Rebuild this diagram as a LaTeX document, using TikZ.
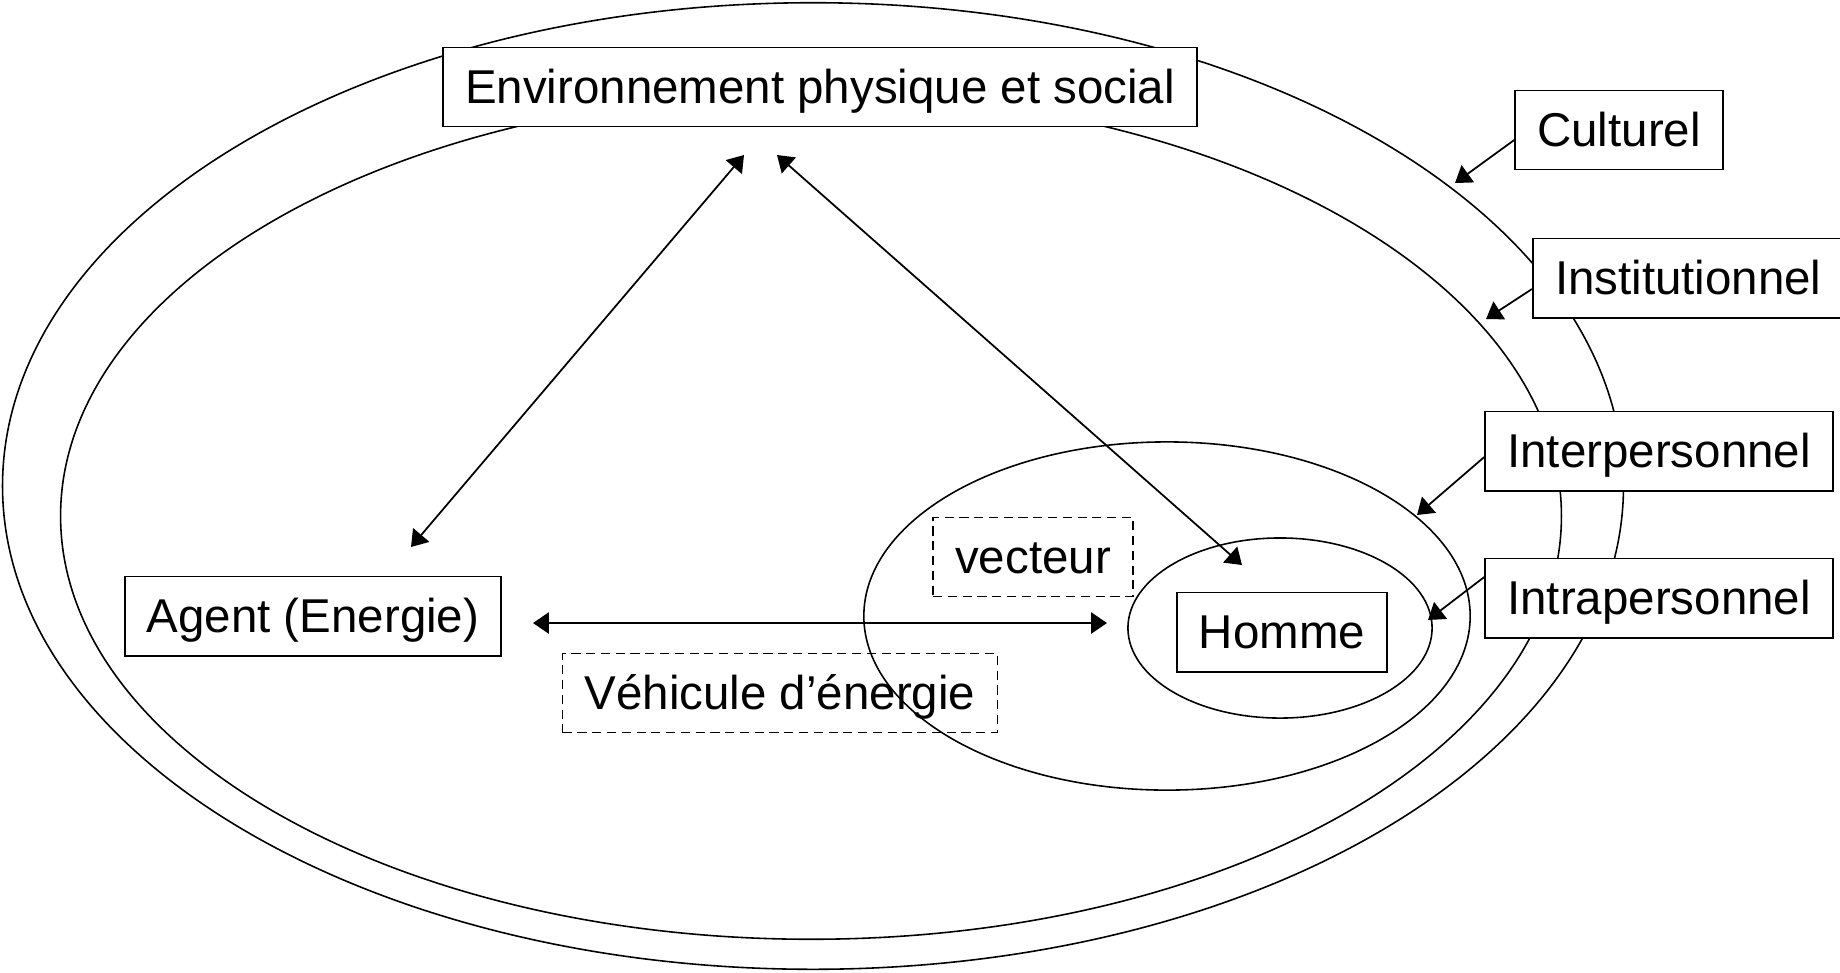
\documentclass[tikz,border=0pt]{standalone}
\usepackage{fontspec}
\setmainfont{Liberation Sans}
\usetikzlibrary{arrows.meta}

\begin{document}
\begin{tikzpicture}[
    x=0.01cm, y=-0.01cm,
    >={Triangle[length=4.5pt, width=6pt]},
    labelbox/.style={rectangle, draw=black, line width=0.55pt, fill=white, inner xsep=0.22cm, inner ysep=0.1cm, minimum height=0.79cm, text height=11pt, text depth=1.5pt, font=\fontsize{13.5}{16}\selectfont},
    dashbox/.style={rectangle, draw=black, line width=0.45pt, dash pattern=on 2.6pt off 1.6pt, inner xsep=0.22cm, inner ysep=0.1cm, minimum height=0.79cm, text height=11pt, text depth=1.5pt, font=\fontsize{13.5}{16}\selectfont},
    ring/.style={draw=black, line width=0.45pt},
    link/.style={<->, line width=0.5pt},
    pointer/.style={->, line width=0.5pt}
  ]
  \useasboundingbox (0,0) rectangle (1840,972);

  % Ellipses
  \draw[ring] (813,486) ellipse [x radius=8.10cm, y radius=4.83cm];
  \draw[ring] (811,516) ellipse [x radius=7.50cm, y radius=4.23cm];
  \draw[ring] (1167,616) ellipse [x radius=3.03cm, y radius=1.74cm];
  \draw[ring] (1280,628) ellipse [x radius=1.52cm, y radius=0.90cm];

  % Boxes
  \node[labelbox] (env) at (820,87) {Environnement physique et social};
  \node[labelbox] (cult) at (1619,130) {Culturel};
  \node[labelbox, anchor=west] (inst) at (1532,278) {Institutionnel};
  \node[labelbox] (inter) at (1659,451) {Interpersonnel};
  \node[labelbox] (intra) at (1659,598) {Intrapersonnel};
  \node[labelbox] (agent) at (313,616) {Agent (Energie)};
  \node[labelbox] (homme) at (1282,632) {Homme};
  \node[dashbox] (vect) at (1033,557) {vecteur};
  \node[dashbox] (vehic) at (780,693) {Véhicule d’énergie};

  % Arrow ends
  \coordinate (envL) at (744,155);
  \coordinate (envR) at (777,155);
  \coordinate (agentT) at (411,547);
  \coordinate (hommeT) at (1242,565);
  \coordinate (agentR) at (533,623);
  \coordinate (hommeL) at (1107,623);
  \coordinate (cultTip) at (1455,183);
  \coordinate (instTip) at (1486,319);
  \coordinate (interTip) at (1417,515);
  \coordinate (intraTip) at (1428,620);

  % Exchanges
  \draw[link] (agentT) -- (envL);
  \draw[link] (hommeT) -- (envR);
  \draw[link] (agentR) -- (hommeL);

  % Levels
  \draw[pointer] ([yshift=-0.1cm]cult.west) -- (cultTip);
  \draw[pointer] ([yshift=-0.11cm]inst.west) -- (instTip);
  \draw[pointer] ([yshift=-0.06cm]inter.west) -- (interTip);
  \draw[pointer] ([yshift=0.21cm]intra.west) -- (intraTip);

\end{tikzpicture}
\end{document}
